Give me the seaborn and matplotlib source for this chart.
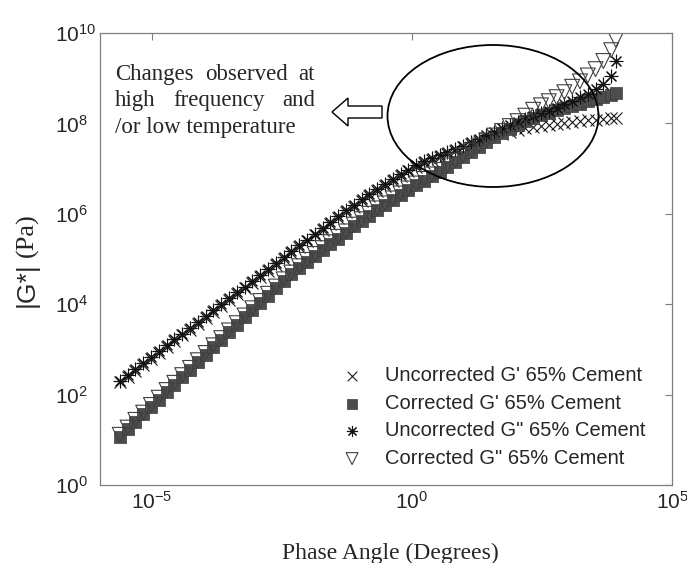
import numpy as np
import matplotlib
matplotlib.use("Agg")
import matplotlib.pyplot as plt
import seaborn as sns
from matplotlib.patches import Ellipse, Polygon
from matplotlib.ticker import NullLocator

# log10 of the frequency axis, shared by all four series
log_freq = [-5.62, -5.47, -5.32, -5.17, -5.02, -4.87, -4.72, -4.57, -4.42, -4.27,
            -4.12, -3.97, -3.82, -3.67, -3.52, -3.37, -3.22, -3.07, -2.92, -2.77,
            -2.62, -2.47, -2.32, -2.17, -2.02, -1.87, -1.72, -1.57, -1.42, -1.27,
            -1.12, -0.97, -0.82, -0.67, -0.52, -0.37, -0.22, -0.07, 0.08, 0.23,
            0.38, 0.53, 0.68, 0.83, 0.98, 1.13, 1.28, 1.43, 1.58, 1.73,
            1.88, 2.03, 2.18, 2.33, 2.48, 2.63, 2.78, 2.93, 3.08, 3.23,
            3.38, 3.53, 3.68, 3.83, 3.92]

# log10 of |G*| (Pa)
log_uncorr_gp = [2.27, 2.40, 2.53, 2.66, 2.79, 2.92, 3.05, 3.18, 3.31, 3.44,
                 3.57, 3.70, 3.83, 3.96, 4.09, 4.22, 4.35, 4.48, 4.61, 4.74,
                 4.87, 5.00, 5.13, 5.26, 5.39, 5.52, 5.65, 5.78, 5.91, 6.04,
                 6.16, 6.28, 6.39, 6.50, 6.61, 6.72, 6.83, 6.94, 7.04, 7.12,
                 7.19, 7.26, 7.33, 7.40, 7.47, 7.54, 7.61, 7.67, 7.72, 7.77,
                 7.81, 7.85, 7.89, 7.92, 7.95, 7.97, 7.99, 8.01, 8.03, 8.05,
                 8.07, 8.08, 8.10, 8.12, 8.13]
log_corr_gp = [1.07, 1.23, 1.40, 1.56, 1.73, 1.89, 2.06, 2.22, 2.39, 2.55,
               2.72, 2.88, 3.05, 3.21, 3.38, 3.54, 3.71, 3.87, 4.03, 4.19,
               4.35, 4.51, 4.66, 4.80, 4.94, 5.07, 5.20, 5.33, 5.45, 5.57,
               5.72, 5.84, 5.96, 6.08, 6.19, 6.30, 6.41, 6.52, 6.63, 6.73,
               6.83, 6.93, 7.03, 7.14, 7.25, 7.36, 7.47, 7.58, 7.69, 7.79,
               7.88, 7.97, 8.05, 8.12, 8.18, 8.24, 8.29, 8.34, 8.39, 8.44,
               8.49, 8.54, 8.58, 8.63, 8.67]
log_uncorr_gpp = [2.31, 2.44, 2.57, 2.70, 2.83, 2.96, 3.09, 3.22, 3.35, 3.48,
                  3.61, 3.74, 3.87, 4.00, 4.13, 4.26, 4.39, 4.52, 4.65, 4.78,
                  4.91, 5.04, 5.17, 5.30, 5.43, 5.56, 5.69, 5.82, 5.95, 6.08,
                  6.20, 6.32, 6.43, 6.54, 6.65, 6.76, 6.87, 6.98, 7.08, 7.16,
                  7.23, 7.30, 7.37, 7.44, 7.51, 7.58, 7.66, 7.74, 7.82, 7.90,
                  7.97, 8.04, 8.10, 8.16, 8.22, 8.28, 8.35, 8.42, 8.50, 8.58,
                  8.66, 8.76, 8.87, 9.05, 9.38]
log_corr_gpp = [1.11, 1.27, 1.44, 1.60, 1.77, 1.93, 2.10, 2.26, 2.43, 2.59,
                2.76, 2.92, 3.09, 3.25, 3.42, 3.58, 3.75, 3.91, 4.07, 4.23,
                4.39, 4.55, 4.70, 4.84, 4.98, 5.11, 5.24, 5.37, 5.49, 5.61,
                5.76, 5.88, 6.00, 6.12, 6.23, 6.34, 6.45, 6.56, 6.67, 6.77,
                6.87, 6.97, 7.07, 7.18, 7.29, 7.40, 7.51, 7.62, 7.73, 7.83,
                7.94, 8.05, 8.17, 8.30, 8.40, 8.49, 8.58, 8.69, 8.81, 8.93,
                9.06, 9.20, 9.38, 9.62, 9.85]

labels = ["Uncorrected G' 65% Cement", "Corrected G' 65% Cement",
          'Uncorrected G" 65% Cement', 'Corrected G" 65% Cement']
x_ticks = [1e-5, 1e0, 1e5]
y_ticks = [1e0, 1e2, 1e4, 1e6, 1e8, 1e10]

SANS = ["Liberation Sans", "DejaVu Sans"]
SERIF = ["Liberation Serif", "DejaVu Serif"]

sns.set_style("white")
plt.rcParams["font.family"] = SANS
plt.rcParams["mathtext.fontset"] = "custom"
plt.rcParams["mathtext.rm"] = "Liberation Sans"
plt.rcParams["mathtext.it"] = "Liberation Sans:italic"
plt.rcParams["mathtext.bf"] = "Liberation Sans:bold"
plt.rcParams["mathtext.default"] = "regular"

W, H = 687, 563
fig = plt.figure(figsize=(W / 100, H / 100), dpi=100)
# axes box in pixels: left 100, right 672, top 33, bottom 485
ax = fig.add_axes([100 / W, (H - 485) / H, 572 / W, 452 / H])

freq = 10.0 ** np.array(log_freq)
styles = [
    dict(marker="x", s=75, color="#1a1a1a", linewidth=0.8),
    dict(marker="s", s=72, color="#4d4d4d", edgecolor="#3a3a3a", linewidth=0.5),
    dict(marker=(8, 2, 0), s=85, color="#111111", linewidth=0.8),
    dict(marker="v", s=115, color="#404040", facecolors="none",
         edgecolor="#404040", linewidth=0.8),
]
for lab, vals, st in zip(labels, [log_uncorr_gp, log_corr_gp, log_uncorr_gpp, log_corr_gpp], styles):
    sns.scatterplot(x=freq, y=10.0 ** np.array(vals), ax=ax, label=lab, **st)

ax.set_xscale("log")
ax.set_yscale("log")
ax.set_xlim(1e-6, 1e5)
ax.set_ylim(1e0, 1e10)
ax.set_xticks(x_ticks)
ax.set_yticks(y_ticks)
ax.xaxis.set_minor_locator(NullLocator())
ax.yaxis.set_minor_locator(NullLocator())
ax.tick_params(axis="both", which="major", direction="in", length=5, width=0.8,
               color="#7f7f7f", labelsize=15, top=True, right=True)
ax.tick_params(axis="y", pad=32.4)
ax.tick_params(axis="x", pad=4)
plt.setp(ax.get_yticklabels(), ha="left")
for sp in ax.spines.values():
    sp.set_color("#7f7f7f")
    sp.set_linewidth(0.9)

ax.legend(loc="upper left", bbox_to_anchor=(0.409, 0.28), borderaxespad=0,
          frameon=False, fontsize=14.5, handlelength=1.0, handletextpad=1.15,
          labelspacing=0.42, scatterpoints=1, borderpad=0.4, markerscale=0.8)

ax.set_xlabel("Phase Angle (Degrees)", fontsize=17, family=SERIF)
ax.xaxis.set_label_coords(0.507, -0.129)


def px(x, y):
    # pixel position -> axes fraction
    return ((x - 100) / 572, (485 - y) / 452)


# justified annotation text, word by word
words = [("Changes", 115, 80, "left"), ("observed", 205, 80, "left"), ("at", 315, 80, "right"),
         ("high", 115, 106, "left"), ("frequency", 173, 106, "left"), ("and", 315, 106, "right"),
         ("/or low temperature", 115, 133, "left")]
for w, wx, wy, ha in words:
    ax.text(*px(wx, wy), w, transform=ax.transAxes, ha=ha, va="baseline",
            fontsize=16.5, family=SERIF)

arrow_px = [(332, 112), (348, 98), (348, 106), (382, 106), (382, 118), (348, 118), (348, 126)]
ax.add_patch(Polygon([px(a, b) for a, b in arrow_px], closed=True, transform=ax.transAxes,
                     facecolor="white", edgecolor="black", linewidth=1.0, zorder=5))
ax.add_patch(Ellipse(px(493, 116), 211 / 572, 142 / 452, transform=ax.transAxes,
                     fill=False, edgecolor="black", linewidth=1.3, zorder=5))

# y label: sans |G*| followed by serif (Pa)
t1 = fig.text(27 / W, (H - 307) / H, "|G*|", rotation=90, ha="center", va="bottom",
              fontsize=19, family=SANS)
fig.canvas.draw()
bb = t1.get_window_extent()
fig.text(27 / W, (bb.y1 + 5) / H, "(Pa)", rotation=90, ha="center", va="bottom",
         fontsize=19, family=SERIF)

fig.savefig("out.png", dpi=100)
